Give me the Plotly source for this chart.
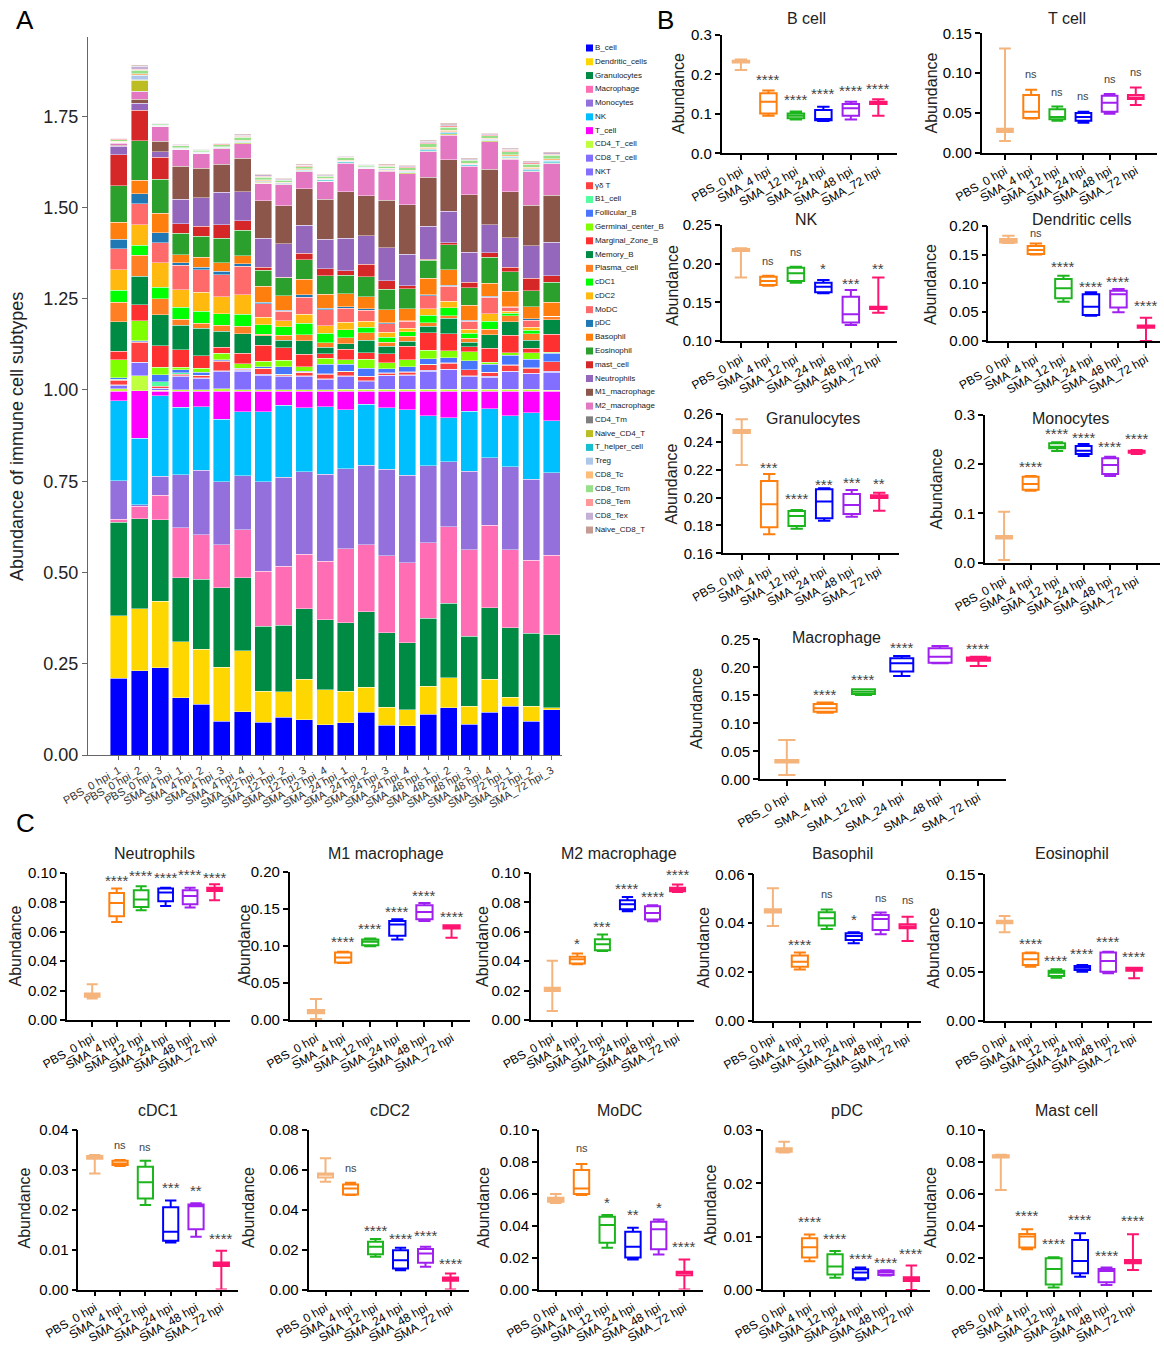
import plotly.graph_objects as go

W, H = 1164, 1345
FONT = "Liberation Sans, Arial, Helvetica, sans-serif"

# ---------------- Panel A data ----------------
samples = ["PBS_0 hpi_1", "PBS_0 hpi_2", "PBS_0 hpi_3",
           "SMA_4 hpi_1", "SMA_4 hpi_2", "SMA_4 hpi_3", "SMA_4 hpi_4",
           "SMA_12 hpi_1", "SMA_12 hpi_2", "SMA_12 hpi_3", "SMA_12 hpi_4",
           "SMA_24 hpi_1", "SMA_24 hpi_2", "SMA_24 hpi_3", "SMA_24 hpi_4",
           "SMA_48 hpi_1", "SMA_48 hpi_2", "SMA_48 hpi_3", "SMA_48 hpi_4",
           "SMA_72 hpi_1", "SMA_72 hpi_2", "SMA_72 hpi_3"]

cell_types = ["B_cell", "Dendritic_cells", "Granulocytes", "Macrophage", "Monocytes", "NK", "T_cell",
              "CD4_T_cell", "CD8_T_cell", "NKT", "γδ T", "B1_cell", "Follicular_B", "Germinal_center_B",
              "Marginal_Zone_B", "Memory_B", "Plasma_cell", "cDC1", "cDC2", "MoDC", "pDC", "Basophil",
              "Eosinophil", "mast_cell", "Neutrophils", "M1_macrophage", "M2_macrophage", "CD4_Tm",
              "Naive_CD4_T", "T_helper_cell", "Treg", "CD8_Tc", "CD8_Tcm", "CD8_Tem", "CD8_Tex", "Naive_CD8_T"]

cell_colors = ["#0000FF", "#FFD700", "#008B45", "#FF6EB4", "#9370DB", "#00BFFF", "#FF00FF",
               "#C0FF3E", "#836FFF", "#8470FF", "#FF4040", "#54FF9F", "#4876FF", "#7FFF00",
               "#FF3030", "#008B45", "#FF7F24", "#00FF00", "#FFB90F", "#FF6A6A", "#1F77B4", "#FF7F0E",
               "#2CA02C", "#D62728", "#9467BD", "#8C564B", "#E377C2", "#7F7F7F",
               "#BCBD22", "#17BECF", "#AEC7E8", "#FFBB78", "#98DF8A", "#FF9896", "#C5B0D5", "#C49C94"]

B_cell = [0.210, 0.231, 0.239, 0.157, 0.139, 0.093, 0.118, 0.090, 0.104, 0.097, 0.083, 0.089, 0.117, 0.082, 0.080, 0.112, 0.129, 0.084, 0.117, 0.134, 0.092, 0.124]
Dendritic_cells = [0.172, 0.169, 0.182, 0.153, 0.151, 0.148, 0.168, 0.085, 0.069, 0.111, 0.096, 0.086, 0.069, 0.049, 0.044, 0.077, 0.082, 0.050, 0.090, 0.024, 0.041, 0.005]
Granulocytes = [0.255, 0.247, 0.223, 0.175, 0.191, 0.217, 0.199, 0.178, 0.183, 0.192, 0.191, 0.187, 0.207, 0.204, 0.183, 0.186, 0.205, 0.191, 0.197, 0.191, 0.200, 0.200]
Macrophage = [0.009, 0.034, 0.068, 0.137, 0.122, 0.118, 0.132, 0.151, 0.161, 0.150, 0.161, 0.203, 0.183, 0.211, 0.220, 0.206, 0.210, 0.237, 0.226, 0.213, 0.201, 0.218]
Monocytes = [0.105, 0.004, 0.052, 0.146, 0.177, 0.172, 0.148, 0.245, 0.244, 0.226, 0.238, 0.219, 0.218, 0.237, 0.240, 0.211, 0.177, 0.215, 0.185, 0.228, 0.222, 0.226]
NK = [0.219, 0.183, 0.220, 0.185, 0.174, 0.172, 0.176, 0.192, 0.197, 0.176, 0.185, 0.162, 0.167, 0.169, 0.179, 0.137, 0.121, 0.165, 0.133, 0.139, 0.182, 0.143]
T_cell = [0.027, 0.130, 0.012, 0.044, 0.043, 0.077, 0.056, 0.056, 0.039, 0.045, 0.043, 0.051, 0.036, 0.045, 0.051, 0.068, 0.073, 0.055, 0.049, 0.068, 0.059, 0.081]
CD4_T_cell = [0.007, 0.041, 0.003, 0.003, 0.003, 0.007, 0.003, 0.003, 0.003, 0.003, 0.003, 0.005, 0.005, 0.005, 0.005, 0.005, 0.005, 0.005, 0.005, 0.005, 0.005, 0.002]
CD8_T_cell = [0.009, 0.035, 0.005, 0.037, 0.032, 0.047, 0.052, 0.041, 0.037, 0.037, 0.029, 0.035, 0.021, 0.037, 0.038, 0.050, 0.053, 0.035, 0.033, 0.048, 0.042, 0.050]
NKT = [0.002, 0.002, 0.001, 0.002, 0.002, 0.002, 0.002, 0.002, 0.002, 0.002, 0.002, 0.002, 0.002, 0.002, 0.002, 0.002, 0.002, 0.002, 0.002, 0.002, 0.002, 0.002]
gd_T = [0.012, 0.055, 0.005, 0.004, 0.006, 0.026, 0.003, 0.016, 0.003, 0.009, 0.012, 0.011, 0.012, 0.005, 0.007, 0.015, 0.016, 0.016, 0.011, 0.016, 0.014, 0.026]
B1_cell = [0.002, 0.001, 0.012, 0.004, 0.001, 0.001, 0.001, 0.001, 0.001, 0.001, 0.001, 0.001, 0.001, 0.001, 0.001, 0.001, 0.001, 0.001, 0.001, 0.001, 0.001, 0.001]
Follicular_B = [0.004, 0.003, 0.020, 0.009, 0.007, 0.003, 0.002, 0.003, 0.020, 0.003, 0.027, 0.019, 0.022, 0.011, 0.014, 0.016, 0.014, 0.024, 0.021, 0.026, 0.023, 0.023]
Germinal_center_B = [0.050, 0.055, 0.020, 0.006, 0.012, 0.018, 0.012, 0.016, 0.018, 0.012, 0.016, 0.013, 0.024, 0.016, 0.019, 0.023, 0.020, 0.025, 0.006, 0.007, 0.018, 0.002]
Marginal_Zone_B = [0.023, 0.044, 0.059, 0.048, 0.034, 0.016, 0.029, 0.043, 0.035, 0.034, 0.012, 0.028, 0.018, 0.025, 0.037, 0.048, 0.046, 0.014, 0.038, 0.048, 0.013, 0.050]
Memory_B = [0.081, 0.077, 0.085, 0.068, 0.075, 0.044, 0.053, 0.027, 0.020, 0.037, 0.018, 0.016, 0.034, 0.021, 0.014, 0.018, 0.043, 0.012, 0.037, 0.037, 0.021, 0.039]
Plasma_cell = [0.053, 0.058, 0.044, 0.016, 0.014, 0.016, 0.020, 0.003, 0.014, 0.016, 0.012, 0.016, 0.021, 0.011, 0.013, 0.009, 0.007, 0.011, 0.016, 0.017, 0.018, 0.010]
cDC1 = [0.033, 0.028, 0.032, 0.032, 0.033, 0.032, 0.033, 0.027, 0.023, 0.032, 0.026, 0.022, 0.015, 0.014, 0.012, 0.021, 0.021, 0.013, 0.0215, 0.0064, 0.0097, 0.000]
cDC2 = [0.057, 0.055, 0.066, 0.049, 0.052, 0.047, 0.054, 0.020, 0.016, 0.025, 0.021, 0.021, 0.016, 0.013, 0.010, 0.018, 0.018, 0.0115, 0.021, 0.0053, 0.008, 0.000]
MoDC = [0.057, 0.058, 0.055, 0.067, 0.062, 0.059, 0.078, 0.037, 0.027, 0.046, 0.044, 0.038, 0.031, 0.023, 0.019, 0.035, 0.041, 0.022, 0.044, 0.0103, 0.0188, 0.000]
pDC = [0.026, 0.027, 0.028, 0.007, 0.006, 0.010, 0.007, 0.004, 0.0025, 0.007, 0.0045, 0.004, 0.003, 0.0035, 0.002, 0.0035, 0.0033, 0.0027, 0.0037, 0.002, 0.0046, 0.000]
Basophil = [0.046, 0.038, 0.053, 0.022, 0.028, 0.024, 0.022, 0.044, 0.039, 0.043, 0.038, 0.036, 0.034, 0.035, 0.032, 0.044, 0.042, 0.041, 0.0355, 0.0426, 0.0327, 0.0386]
Eosinophil = [0.101, 0.108, 0.093, 0.058, 0.057, 0.066, 0.070, 0.044, 0.050, 0.053, 0.050, 0.050, 0.054, 0.057, 0.055, 0.050, 0.068, 0.0485, 0.0705, 0.053, 0.0434, 0.0543]
mast_cell = [0.084, 0.084, 0.060, 0.026, 0.027, 0.038, 0.026, 0.008, 0.002, 0.018, 0.020, 0.013, 0.035, 0.023, 0.009, 0.003, 0.006, 0.014, 0.013, 0.0125, 0.0348, 0.0177]
Neutrophils = [0.024, 0.018, 0.016, 0.068, 0.078, 0.089, 0.079, 0.080, 0.091, 0.076, 0.080, 0.088, 0.078, 0.090, 0.086, 0.090, 0.086, 0.082, 0.0765, 0.0814, 0.0889, 0.0923]
M1_macrophage = [0.002, 0.012, 0.029, 0.090, 0.082, 0.077, 0.092, 0.103, 0.104, 0.100, 0.110, 0.128, 0.109, 0.130, 0.136, 0.134, 0.142, 0.158, 0.152, 0.1258, 0.111, 0.128]
M2_macrophage = [0.006, 0.020, 0.039, 0.045, 0.039, 0.042, 0.039, 0.047, 0.058, 0.047, 0.049, 0.078, 0.074, 0.080, 0.084, 0.070, 0.067, 0.078, 0.075, 0.0889, 0.0921, 0.0871]
CD4_Tm = [0.001, 0.001, 0.001, 0.001, 0.001, 0.001, 0.001, 0.001, 0.001, 0.001, 0.001, 0.001, 0.001, 0.001, 0.001, 0.001, 0.001, 0.001, 0.001, 0.001, 0.001, 0.001]
Naive_CD4_T = [0.001, 0.030, 0.001, 0.001, 0.001, 0.001, 0.002, 0.002, 0.001, 0.001, 0.001, 0.001, 0.001, 0.001, 0.002, 0.002, 0.002, 0.001, 0.002, 0.002, 0.002, 0.002]
T_helper_cell = [0.001, 0.002, 0.001, 0.001, 0.001, 0.001, 0.002, 0.002, 0.001, 0.002, 0.002, 0.002, 0.001, 0.002, 0.002, 0.003, 0.003, 0.002, 0.002, 0.002, 0.002, 0.003]
Treg = [0.001, 0.012, 0.001, 0.001, 0.001, 0.001, 0.002, 0.002, 0.002, 0.002, 0.002, 0.002, 0.001, 0.002, 0.002, 0.003, 0.003, 0.002, 0.002, 0.003, 0.003, 0.003]
CD8_Tc = [0.002, 0.005, 0.001, 0.002, 0.002, 0.002, 0.003, 0.003, 0.002, 0.002, 0.002, 0.003, 0.002, 0.002, 0.003, 0.004, 0.004, 0.003, 0.003, 0.004, 0.004, 0.004]
CD8_Tcm = [0.004, 0.009, 0.003, 0.005, 0.004, 0.005, 0.008, 0.007, 0.005, 0.006, 0.006, 0.006, 0.004, 0.006, 0.007, 0.009, 0.009, 0.007, 0.007, 0.009, 0.009, 0.010]
CD8_Tem = [0.002, 0.003, 0.001, 0.002, 0.001, 0.002, 0.003, 0.003, 0.002, 0.002, 0.002, 0.002, 0.001, 0.002, 0.002, 0.003, 0.003, 0.002, 0.002, 0.003, 0.003, 0.003]
CD8_Tex = [0.002, 0.008, 0.001, 0.002, 0.002, 0.002, 0.003, 0.003, 0.002, 0.002, 0.002, 0.002, 0.002, 0.002, 0.003, 0.004, 0.004, 0.003, 0.003, 0.003, 0.003, 0.004]
Naive_CD8_T = [0.001, 0.003, 0.001, 0.001, 0.001, 0.001, 0.002, 0.002, 0.002, 0.002, 0.002, 0.002, 0.001, 0.002, 0.002, 0.003, 0.003, 0.002, 0.002, 0.003, 0.003, 0.003]

series = [B_cell, Dendritic_cells, Granulocytes, Macrophage, Monocytes, NK, T_cell, CD4_T_cell, CD8_T_cell,
          NKT, gd_T, B1_cell, Follicular_B, Germinal_center_B, Marginal_Zone_B, Memory_B, Plasma_cell,
          cDC1, cDC2, MoDC, pDC, Basophil, Eosinophil, mast_cell, Neutrophils, M1_macrophage, M2_macrophage,
          CD4_Tm, Naive_CD4_T, T_helper_cell, Treg, CD8_Tc, CD8_Tcm, CD8_Tem, CD8_Tex, Naive_CD8_T]

# ---------------- Panels B / C data (box statistics) ----------------
groups = ["PBS_0 hpi", "SMA_4 hpi", "SMA_12 hpi", "SMA_24 hpi", "SMA_48 hpi", "SMA_72 hpi"]
group_colors = ["#F4B47C", "#FF7F0E", "#1DB51D", "#0000FF", "#A020F0", "#FF1470"]

panels = [
    dict(title="B cell",
         lf=[0.211, 0.095, 0.086, 0.082, 0.086, 0.095], q1=[0.230, 0.101, 0.089, 0.084, 0.095, 0.125],
         med=[0.233, 0.131, 0.095, 0.087, 0.114, 0.127], q3=[0.235, 0.152, 0.101, 0.110, 0.125, 0.131],
         uf=[0.238, 0.159, 0.106, 0.118, 0.131, 0.137],
         sig=["****", "****", "****", "****", "****"], sig_y=[0.190, 0.138, 0.155, 0.163, 0.167],
         yr=[0, 0.3], dtick=0.1, fmt=".1f"),
    dict(title="T cell",
         lf=[0.0147, 0.043, 0.040, 0.0377, 0.049, 0.060], q1=[0.026, 0.0435, 0.042, 0.040, 0.0515, 0.0675],
         med=[0.028, 0.0515, 0.045, 0.045, 0.0628, 0.0695], q3=[0.030, 0.0725, 0.0545, 0.050, 0.0717, 0.0725],
         uf=[0.131, 0.079, 0.058, 0.0515, 0.0737, 0.082],
         sig=["ns", "ns", "ns", "ns", "ns"], sig_y=[0.099, 0.0767, 0.0712, 0.0926, 0.1018],
         yr=[0, 0.15], dtick=0.05, fmt=".2f"),
    dict(title="NK",
         lf=[0.182, 0.1716, 0.1754, 0.1616, 0.1207, 0.1366], q1=[0.2165, 0.1724, 0.1776, 0.163, 0.124, 0.1414],
         med=[0.218, 0.1776, 0.1875, 0.170, 0.1345, 0.1425], q3=[0.219, 0.183, 0.1948, 0.1754, 0.1573, 0.1444],
         uf=[0.220, 0.1845, 0.196, 0.179, 0.166, 0.182],
         sig=["ns", "ns", "*", "***", "**"], sig_y=[0.204, 0.2155, 0.1948, 0.1759, 0.1948],
         yr=[0.10, 0.25], dtick=0.05, fmt=".2f"),
    dict(title="Dendritic cells",
         lf=[0.170, 0.150, 0.068, 0.044, 0.050, 0.000], q1=[0.171, 0.151, 0.074, 0.045, 0.058, 0.023],
         med=[0.174, 0.158, 0.0913, 0.0595, 0.081, 0.025], q3=[0.177, 0.165, 0.1075, 0.081, 0.0873, 0.027],
         uf=[0.1827, 0.169, 0.113, 0.0844, 0.090, 0.0405],
         sig=["ns", "****", "****", "****", "****"], sig_y=[0.1867, 0.1306, 0.097, 0.1058, 0.0636],
         yr=[0, 0.20], dtick=0.05, fmt=".2f"),
    dict(title="Granulocytes",
         lf=[0.2234, 0.1736, 0.1777, 0.1834, 0.1863, 0.1906], q1=[0.2463, 0.1787, 0.1796, 0.1851, 0.1882, 0.1997],
         med=[0.2475, 0.1952, 0.1868, 0.1971, 0.1947, 0.2005], q3=[0.2485, 0.2119, 0.1904, 0.2059, 0.2026, 0.2016],
         uf=[0.2562, 0.217, 0.1911, 0.2067, 0.2055, 0.2035],
         sig=["***", "****", "***", "***", "**"], sig_y=[0.2222, 0.200, 0.2102, 0.2114, 0.211],
         yr=[0.16, 0.26], dtick=0.02, fmt=".2f"),
    dict(title="Monocytes",
         lf=[0.0054, 0.146, 0.2269, 0.2167, 0.176, 0.2208], q1=[0.0494, 0.148, 0.2323, 0.2208, 0.180, 0.2235],
         med=[0.052, 0.160, 0.2357, 0.2275, 0.1984, 0.2255], q3=[0.0542, 0.1747, 0.2424, 0.237, 0.212, 0.2275],
         uf=[0.1036, 0.176, 0.2445, 0.241, 0.2153, 0.2289],
         sig=["****", "****", "****", "****", "****"], sig_y=[0.1984, 0.2641, 0.256, 0.239, 0.2546],
         yr=[0, 0.3], dtick=0.1, fmt=".1f"),
    dict(title="Macrophage",
         lf=[0.0077, 0.119, 0.1506, 0.1845, 0.2071, 0.2024], q1=[0.0298, 0.1208, 0.1524, 0.1923, 0.2083, 0.2119],
         med=[0.0327, 0.1268, 0.1565, 0.2071, 0.219, 0.2143], q3=[0.0345, 0.1345, 0.1607, 0.216, 0.2339, 0.2173],
         uf=[0.0702, 0.137, 0.1607, 0.2202, 0.238, 0.219],
         sig=["****", "****", "****", "****", "****"], sig_y=[0.1536, 0.1804, 0.2369, 0.2518, 0.2357],
         yr=[0, 0.25], dtick=0.05, fmt=".2f"),
    dict(title="Neutrophils",
         lf=[0.0147, 0.0667, 0.0747, 0.0776, 0.0765, 0.0814], q1=[0.0158, 0.0706, 0.0769, 0.0808, 0.0787, 0.0878],
         med=[0.0170, 0.0796, 0.0819, 0.0867, 0.0844, 0.0889], q3=[0.0181, 0.0864, 0.0882, 0.0894, 0.0882, 0.0900],
         uf=[0.0244, 0.0894, 0.091, 0.090, 0.090, 0.0923],
         sig=["****", "****", "****", "****", "****"], sig_y=[0.0955, 0.0989, 0.0973, 0.100, 0.0973],
         yr=[0, 0.10], dtick=0.02, fmt=".2f"),
    dict(title="M1 macrophage",
         lf=[0.0013, 0.0769, 0.0998, 0.1088, 0.1339, 0.111], q1=[0.009, 0.0778, 0.1011, 0.1137, 0.1362, 0.1236],
         med=[0.0112, 0.0845, 0.1056, 0.129, 0.146, 0.1258], q3=[0.0135, 0.0912, 0.1088, 0.1339, 0.155, 0.128],
         uf=[0.0283, 0.0921, 0.110, 0.1362, 0.1582, 0.128],
         sig=["****", "****", "****", "****", "****"], sig_y=[0.1079, 0.125, 0.1483, 0.1699, 0.1416],
         yr=[0, 0.20], dtick=0.05, fmt=".2f"),
    dict(title="M2 macrophage",
         lf=[0.0061, 0.038, 0.047, 0.074, 0.0672, 0.0871], q1=[0.0197, 0.0385, 0.0475, 0.0753, 0.0683, 0.0876],
         med=[0.0208, 0.0414, 0.0515, 0.0787, 0.0728, 0.0889], q3=[0.0219, 0.043, 0.055, 0.0814, 0.0774, 0.0900],
         uf=[0.0403, 0.0452, 0.0581, 0.0837, 0.078, 0.0921],
         sig=["*", "***", "****", "****", "****"], sig_y=[0.053, 0.0645, 0.090, 0.0848, 0.0995],
         yr=[0, 0.10], dtick=0.02, fmt=".2f"),
    dict(title="Basophil",
         lf=[0.0388, 0.021, 0.0376, 0.0317, 0.0354, 0.0327], q1=[0.0443, 0.0221, 0.039, 0.0331, 0.0372, 0.0379],
         med=[0.0450, 0.0242, 0.042, 0.0347, 0.0417, 0.0386], q3=[0.0457, 0.0267, 0.0444, 0.0358, 0.0433, 0.0395],
         uf=[0.0543, 0.028, 0.0456, 0.0362, 0.0443, 0.0426],
         sig=["****", "ns", "*", "ns", "ns"], sig_y=[0.0317, 0.0518, 0.042, 0.0504, 0.0495],
         yr=[0, 0.06], dtick=0.02, fmt=".2f"),
    dict(title="Eosinophil",
         lf=[0.0905, 0.0553, 0.0441, 0.0502, 0.0485, 0.0434], q1=[0.0998, 0.057, 0.0458, 0.0519, 0.0502, 0.0513],
         med=[0.1011, 0.0629, 0.0492, 0.0543, 0.0612, 0.0530], q3=[0.1025, 0.069, 0.0513, 0.056, 0.070, 0.0543],
         uf=[0.1073, 0.070, 0.0526, 0.057, 0.0707, 0.0543],
         sig=["****", "****", "****", "****", "****"], sig_y=[0.0803, 0.0632, 0.070, 0.0817, 0.0673],
         yr=[0, 0.15], dtick=0.05, fmt=".2f"),
    dict(title="cDC1",
         lf=[0.0291, 0.031, 0.0212, 0.0118, 0.0132, 0.0], q1=[0.0328, 0.0312, 0.0228, 0.0122, 0.0151, 0.0059],
         med=[0.0332, 0.0316, 0.0269, 0.0145, 0.0209, 0.0064], q3=[0.0335, 0.0323, 0.0308, 0.0206, 0.0213, 0.0068],
         uf=[0.0337, 0.0325, 0.0323, 0.0223, 0.0216, 0.0097],
         sig=["ns", "ns", "***", "**", "****"], sig_y=[0.0362, 0.0358, 0.0258, 0.0251, 0.0131],
         yr=[0, 0.04], dtick=0.01, fmt=".2f"),
    dict(title="cDC2",
         lf=[0.054, 0.0474, 0.0164, 0.0097, 0.0114, 0.0], q1=[0.0562, 0.0477, 0.0177, 0.0105, 0.0134, 0.0044],
         med=[0.0575, 0.0507, 0.0214, 0.0147, 0.0181, 0.0053], q3=[0.0582, 0.0527, 0.0239, 0.0197, 0.0203, 0.006],
         uf=[0.0658, 0.0536, 0.0253, 0.0209, 0.0214, 0.008],
         sig=["ns", "****", "****", "****", "****"], sig_y=[0.0608, 0.0301, 0.0259, 0.0278, 0.0134],
         yr=[0, 0.08], dtick=0.02, fmt=".2f"),
    dict(title="MoDC",
         lf=[0.0543, 0.0592, 0.0262, 0.0188, 0.022, 0.0], q1=[0.0550, 0.0598, 0.0293, 0.0201, 0.0253, 0.009],
         med=[0.0562, 0.0634, 0.0404, 0.0268, 0.0377, 0.0103], q3=[0.0575, 0.0749, 0.0456, 0.0362, 0.0425, 0.0111],
         uf=[0.0598, 0.0787, 0.0467, 0.0387, 0.0439, 0.0188],
         sig=["ns", "*", "**", "*", "****"], sig_y=[0.0885, 0.055, 0.0477, 0.0523, 0.0278],
         yr=[0, 0.10], dtick=0.02, fmt=".2f"),
    dict(title="pDC",
         lf=[0.0258, 0.0054, 0.0023, 0.0019, 0.0027, 0.0], q1=[0.0259, 0.0061, 0.0029, 0.0022, 0.0028, 0.0017],
         med=[0.0262, 0.008, 0.0044, 0.0033, 0.0033, 0.002], q3=[0.0266, 0.0097, 0.0067, 0.0039, 0.0036, 0.0024],
         uf=[0.0278, 0.0104, 0.0073, 0.0042, 0.0037, 0.0046],
         sig=["****", "****", "****", "****", "****"], sig_y=[0.0131, 0.0098, 0.0061, 0.0054, 0.007],
         yr=[0, 0.03], dtick=0.01, fmt=".2f"),
    dict(title="Mast cell",
         lf=[0.0625, 0.0255, 0.0015, 0.0083, 0.0031, 0.0125], q1=[0.0828, 0.0265, 0.0035, 0.0104, 0.0048, 0.0167],
         med=[0.0835, 0.0335, 0.0131, 0.0181, 0.0119, 0.0177], q3=[0.0842, 0.035, 0.0198, 0.0313, 0.0131, 0.0188],
         uf=[0.0846, 0.038, 0.0204, 0.0354, 0.014, 0.0348],
         sig=["****", "****", "****", "****", "****"], sig_y=[0.0475, 0.0296, 0.0448, 0.0223, 0.0438],
         yr=[0, 0.10], dtick=0.02, fmt=".2f"),
]

# layout (pixel geometry): axis x start, x end, y top, y bottom, x range, title pos, y-title pos
geom = [
    (721.7, 897.0, 35.0, 153.3, [-0.70, 5.68], (806.7, 18.5), (679.0, 94.0)),
    (981.7, 1156.7, 33.3, 152.7, [-0.89, 5.80], (1067.3, 18.5), (931.5, 93.0)),
    (721.7, 897.0, 225.0, 341.0, [-0.70, 5.68], (806.7, 219.0), (672.0, 285.0)),
    (988.3, 1160.0, 225.7, 341.0, [-0.73, 5.51], (1081.7, 219.0), (930.0, 285.0)),
    (722.7, 899.3, 414.0, 553.3, [-0.69, 5.73], (812.7, 418.5), (670.5, 484.0)),
    (985.0, 1160.0, 415.0, 562.7, [-0.72, 5.88], (1070.7, 418.5), (935.5, 489.0)),
    (760.0, 1006.0, 639.3, 779.3, [-0.70, 5.72], (836.7, 637.5), (696.0, 709.0)),
    (67.0, 229.5, 873.0, 1020.0, [-1.03, 5.61], (154.3, 853.3), (15.0, 946.5)),
    (289.7, 470.0, 872.0, 1020.0, [-0.97, 5.68], (385.7, 853.3), (243.5, 945.0)),
    (530.5, 693.6, 873.0, 1020.0, [-0.87, 5.64], (619.0, 853.3), (482.5, 946.5)),
    (754.3, 920.8, 874.3, 1020.7, [-0.69, 5.49], (842.6, 853.3), (703.0, 948.0)),
    (985.2, 1151.7, 874.3, 1020.7, [-0.75, 5.68], (1072.4, 853.3), (932.5, 948.0)),
    (78.3, 237.8, 1130.0, 1289.5, [-0.65, 5.65], (158.0, 1110.0), (23.5, 1208.0)),
    (308.5, 468.5, 1130.0, 1289.5, [-0.68, 5.72], (389.5, 1110.0), (248.0, 1208.0)),
    (538.8, 702.9, 1130.0, 1289.5, [-0.66, 5.72], (619.0, 1110.0), (483.0, 1208.0)),
    (762.5, 930.0, 1130.0, 1290.0, [-0.85, 5.73], (847.4, 1110.0), (709.5, 1205.0)),
    (985.2, 1151.7, 1130.0, 1290.0, [-0.59, 5.71], (1066.0, 1110.0), (930.0, 1208.0)),
]


def xd(a, b):
    return [a / W, b / W]


def yd(top, bottom):
    return [1 - bottom / H, 1 - top / H]


fig = go.Figure()
annotations = []
layout = dict(width=W, height=H, margin=dict(l=0, r=0, t=0, b=0, pad=0, autoexpand=False), autosize=False,
              paper_bgcolor="white", plot_bgcolor="white", showlegend=False,
              barmode="stack", bargap=0.175, boxmode="overlay",
              font=dict(family=FONT, color="black"))

# ---------------- Panel A: stacked bars ----------------
for name, color, vals in zip(cell_types, cell_colors, series):
    fig.add_trace(go.Bar(x=samples, y=vals, name=name,
                         marker=dict(color=color, line=dict(color="rgba(255,255,255,0.85)", width=0.5)),
                         xaxis="x", yaxis="y", hoverinfo="skip"))

layout["xaxis"] = dict(domain=xd(88, 562), range=[-1.5, 21.5], type="category", anchor="y",
                       automargin=False,
                       showline=True, linecolor="#666", linewidth=1, ticks="outside", ticklen=4,
                       tickcolor="#666", tickangle=-30, tickfont=dict(size=11, color="#333"),
                       showgrid=False, zeroline=False)
layout["yaxis"] = dict(domain=yd(37, 755), range=[0, 1.967], anchor="x", dtick=0.25, tick0=0,
                       automargin=False,
                       tickformat=".2f", showline=True, linecolor="#666", linewidth=1, ticks="outside",
                       ticklen=5, tickcolor="#666", tickfont=dict(size=18, color="#222"),
                       showgrid=False, zeroline=False)
annotations.append(dict(text="Abundance of immune cell subtypes", xref="paper", yref="paper",
                        x=17 / W, y=1 - 437 / H, textangle=-90, showarrow=False,
                        font=dict(size=18, color="#222"), xanchor="center", yanchor="middle"))

# custom legend drawn as a scatter on hidden axes
fig.add_trace(go.Scatter(x=[0] * len(cell_types), y=list(range(len(cell_types))), mode="markers+text",
                         text=cell_types, textposition="middle right",
                         marker=dict(symbol="square", size=7, color=cell_colors),
                         textfont=dict(size=8, color="#222", family=FONT),
                         xaxis="x2", yaxis="y2", hoverinfo="skip", cliponaxis=False))
layout["xaxis2"] = dict(domain=xd(584, 700), range=[-0.6, 12], visible=False, anchor="y2", automargin=False)
layout["yaxis2"] = dict(domain=yd(40, 538), range=[35.58, -0.58], visible=False, anchor="x2", automargin=False)

# ---------------- Panels B and C: box plots ----------------
for i, (p, g) in enumerate(zip(panels, geom)):
    k = i + 3
    xa, ya = f"x{k}", f"y{k}"
    x0, x1, ytop, ybot, xr, tpos, ytpos = g
    for j, grp in enumerate(groups):
        fig.add_trace(go.Box(x=[grp], q1=[p["q1"][j]], median=[p["med"][j]], q3=[p["q3"][j]],
                             lowerfence=[p["lf"][j]], upperfence=[p["uf"][j]],
                             line=dict(color=group_colors[j], width=2), fillcolor="rgba(0,0,0,0)",
                             width=0.6, whiskerwidth=0.75, boxpoints=False,
                             xaxis=xa, yaxis=ya, hoverinfo="skip"))
    layout[f"xaxis{k}"] = dict(domain=xd(x0, x1), range=xr, type="category", anchor=ya,
                               categoryorder="array", categoryarray=groups, automargin=False,
                               showline=True, linecolor="black", linewidth=1.6, ticks="outside",
                               ticklen=5, tickwidth=1.6, tickcolor="black", tickangle=-30,
                               tickfont=dict(size=12, color="black"), showgrid=False, zeroline=False)
    layout[f"yaxis{k}"] = dict(domain=yd(ytop, ybot), range=p["yr"], anchor=xa, dtick=p["dtick"],
                               tick0=p["yr"][0], tickformat=p["fmt"], showline=True, linecolor="black",
                               automargin=False,
                               linewidth=1.6, ticks="outside", ticklen=5, tickwidth=1.6, tickcolor="black",
                               tickfont=dict(size=15, color="black"), showgrid=False, zeroline=False)
    annotations.append(dict(text=p["title"], xref="paper", yref="paper", x=tpos[0] / W, y=1 - tpos[1] / H,
                            showarrow=False, font=dict(size=16, color="#222"),
                            xanchor="center", yanchor="middle"))
    annotations.append(dict(text="Abundance", xref="paper", yref="paper", x=ytpos[0] / W,
                            y=1 - ytpos[1] / H, textangle=-90, showarrow=False,
                            font=dict(size=16, color="#222"), xanchor="center", yanchor="middle"))
    for j, (s, sy) in enumerate(zip(p["sig"], p["sig_y"])):
        is_star = "*" in s
        annotations.append(dict(text=s, xref=xa, yref=ya, x=groups[j + 1], y=sy, showarrow=False,
                                font=dict(size=15 if is_star else 11, color="#444"),
                                xanchor="center", yanchor="middle", yshift=-1 if is_star else 0))

# panel letters
for letter, (lx, ly) in zip(["A", "B", "C"], [(25, 20), (665, 20), (25, 823)]):
    annotations.append(dict(text=letter, xref="paper", yref="paper", x=lx / W, y=1 - ly / H,
                            showarrow=False, font=dict(size=26, color="black"),
                            xanchor="center", yanchor="middle"))

layout["annotations"] = annotations
fig.update_layout(**layout)

fig.write_html("out.html", config={"displayModeBar": False},
               post_script="document.body.style.margin='0';document.body.style.overflow='hidden';")
